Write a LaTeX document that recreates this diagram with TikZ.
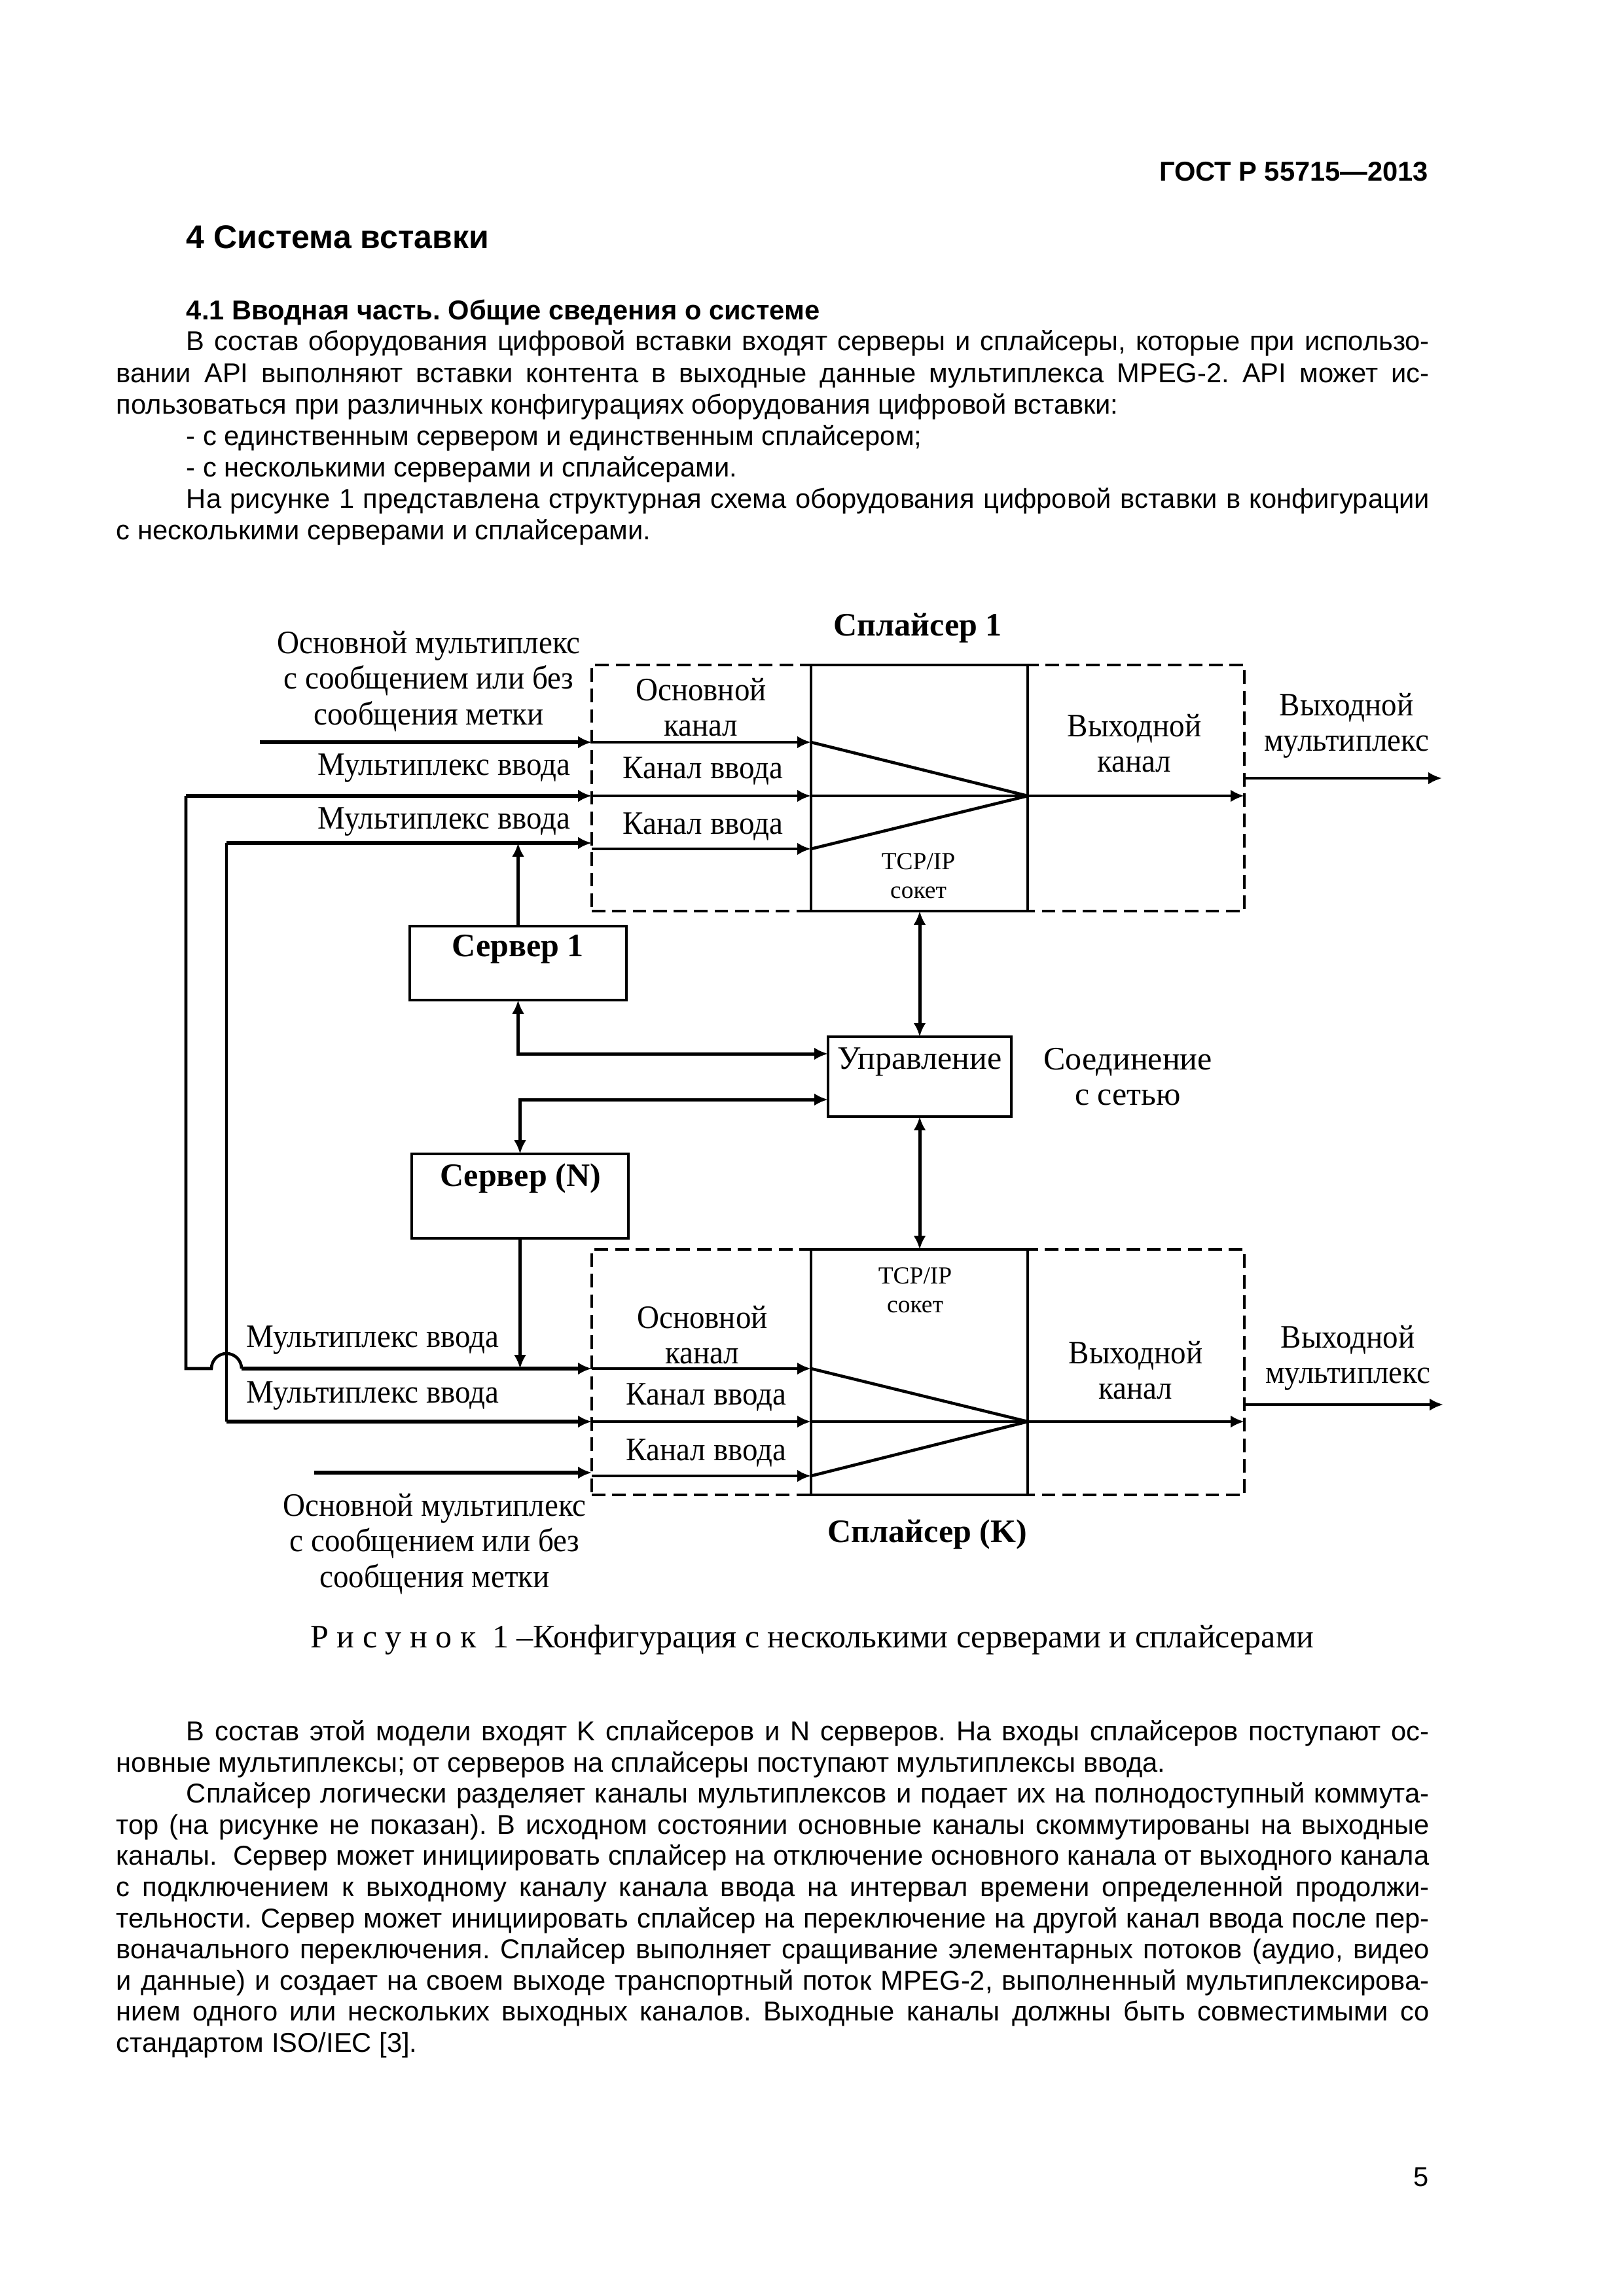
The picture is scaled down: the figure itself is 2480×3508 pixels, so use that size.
\documentclass[tikz,border=0pt]{standalone}
\usepackage{fontspec}
\setmainfont{Liberation Sans}
\newfontfamily\tnr{Liberation Serif}
\newfontfamily\tnrc[FakeStretch=0.94]{Liberation Serif}
\usetikzlibrary{arrows.meta,calc}
\frenchspacing
% justified text lines
\newcommand\jl[1]{\makebox[481.4pt][s]{#1}}
\newcommand\ji[1]{\makebox[481.4pt][s]{\hspace*{25.7pt}#1}}
\tikzset{
  >=Latex,
  body/.style={font=\fontsize{10}{12}\selectfont, inner sep=0pt, anchor=base west},
  hdr/.style={font=\fontsize{10}{12}\selectfont\bfseries, inner sep=0pt, anchor=base west},
  lab/.style={font=\tnrc\fontsize{12}{13}\selectfont, align=center, inner sep=0pt},
  wlab/.style={lab, font=\tnr\fontsize{12}{13}\selectfont},
  ttl/.style={font=\tnr\fontsize{12}{13}\selectfont\bfseries, align=center, inner sep=0pt},
  tcp/.style={font=\tnr\fontsize{9}{10.5}\selectfont, align=center, inner sep=0pt},
  box/.style={draw=black, line width=1pt, inner sep=0pt, outer sep=0pt},
  dbox/.style={draw=black, line width=1pt, dash pattern=on 5pt off 2.5pt, inner sep=0pt, outer sep=0pt},
  wire/.style={draw=black, line width=1.1pt},
  sig/.style={draw=black, line width=1.1pt, -{Latex[length=5pt,width=4.5pt]}},
  main/.style={sig, line width=1.5pt},
  dbl/.style={draw=black, line width=1.2pt, {Latex[length=5pt,width=4.5pt]}-{Latex[length=5pt,width=4.5pt]}},
}

\begin{document}
\begin{tikzpicture}[x=0.24pt,y=-0.24pt]
\fill[white] (0,0) rectangle (2480,3508);
\useasboundingbox (0,0) rectangle (2480,3508);
% page head
\node[hdr, anchor=base east] (gost) at (2183,277) {ГОСТ Р 55715—2013};
\node[hdr, font=\fontsize{12}{14}\selectfont\bfseries] (sec) at (284,380) {4 Система вставки};
\node[hdr] (sub) at (284,489) {4.1 Вводная часть. Общие сведения о системе};
\node[body] (l1) at (177,536) {\ji{В состав оборудования цифровой вставки входят серверы и сплайсеры, которые при использо-}};
\node[body] (l2) at (177,585) {\jl{вании API выполняют вставки контента в выходные данные мультиплекса MPEG-2. API может ис-}};
\node[body] (l3) at (177,633) {пользоваться при различных конфигурациях оборудования цифровой вставки:};
\node[body] (l4) at (284,681) {- с единственным сервером и единственным сплайсером;};
\node[body] (l5) at (284,729) {- с несколькими серверами и сплайсерами.};
\node[body] (l6) at (177,777) {\ji{На рисунке 1 представлена структурная схема оборудования цифровой вставки в конфигурации}};
\node[body] (l7) at (177,825) {с несколькими серверами и сплайсерами.};

% splicer 1
\node[dbox, minimum width=239.28pt, minimum height=90.24pt] (s1) at (1402.5,1204) {};
\node[box, minimum width=79.44pt, minimum height=90.24pt] (s1c) at (1404.5,1204) {};
\node[ttl] (s1t) at (1402,960) {Сплайсер 1};
\node[lab] (s1m) at (1071,1081) {Основной\\канал};
\node[lab] (s1i1) at (1074,1178) {Канал ввода};
\node[lab] (s1i2) at (1074,1263) {Канал ввода};
\node[tcp] (s1tcp) at (1403,1338) {TCP/IP\\сокет};
\node[lab] (s1o) at (1733,1136) {Выходной\\канал};
\node[lab] (s1om) at (2057,1109) {Выходной\\мультиплекс};
\node[lab] (s1mm) at (655,1041) {Основной мультиплекс\\с сообщением или без\\сообщения метки};
\node[lab, anchor=east] (s1ia) at (872,1174) {Мультиплекс ввода};
\node[lab, anchor=east] (s1ib) at (872,1256) {Мультиплекс ввода};
\coordinate (in1) at (397,1134);
\coordinate (lpA) at (284,1216);
\coordinate (lpB) at (346,1288);
\coordinate (r3) at (904,1297);
\coordinate (s1x) at (1570,1216);
\coordinate (o1) at (2203,1189);
\draw[main] (in1) -- (in1 -| s1.west);
\draw[sig] (in1 -| s1.west) -- (in1 -| s1c.west);
\draw[main] (lpA) -- (lpA -| s1.west);
\draw[sig] (lpA -| s1.west) -- (lpA -| s1c.west);
\draw[main] (lpB) -- (lpB -| s1.west);
\draw[sig] (r3) -- (r3 -| s1c.west);
\draw[wire] (in1 -| s1c.west) -- (s1x);
\draw[wire] (lpA -| s1c.west) -- (s1x);
\draw[wire] (r3 -| s1c.west) -- (s1x);
\draw[sig] (s1x) -- (s1x -| s1.east);
\draw[sig] (o1 -| s1.east) -- (o1);

% servers + control
\node[box, minimum width=79.44pt, minimum height=27.12pt] (srv1) at (791.5,1471.5) {};
\node[ttl] (srv1t) at (791,1450) {Сервер 1};
\node[box, minimum width=79.44pt, minimum height=30.96pt] (srvN) at (794.5,1827.5) {};
\node[ttl] (srvNt) at (795,1800) {Сервер (N)};
\node[box, minimum width=67.2pt, minimum height=29.28pt] (ctl) at (1405,1645) {};
\node[wlab] (ctlt) at (1405,1622) {Управление};
\node[wlab] (net) at (1723,1645) {Соединение\\с сетью};
\coordinate (c1) at (1265,1610);
\coordinate (c2) at (1265,1680);
\draw[sig] (srv1.north) -- (srv1.north |- lpB);
\draw[dbl] (srv1.south) |- (c1);
\draw[dbl] (c2) -| (srvN.north);
\draw[dbl] (ctl.north |- s1c.south) -- (ctl.north);

% splicer K
\node[dbox, minimum width=239.28pt, minimum height=90pt] (sK) at (1402.5,2096.5) {};
\node[box, minimum width=79.44pt, minimum height=90pt] (sKc) at (1404.5,2096.5) {};
\node[ttl] (sKt) at (1417,2344) {Сплайсер (K)};
\node[tcp] (sKtcp) at (1398,1971) {TCP/IP\\сокет};
\node[lab] (sKm) at (1073,2040) {Основной\\канал};
\node[lab] (sKi1) at (1079,2135) {Канал ввода};
\node[lab] (sKi2) at (1079,2220) {Канал ввода};
\node[lab] (sKo) at (1735,2094) {Выходной\\канал};
\node[lab] (sKom) at (2059,2075) {Выходной\\мультиплекс};
\node[lab, anchor=west] (sKia) at (376,2048) {Мультиплекс ввода};
\node[lab, anchor=west] (sKib) at (376,2133) {Мультиплекс ввода};
\node[lab] (sKmm) at (664,2359) {Основной мультиплекс\\с сообщением или без\\сообщения метки};
\draw[dbl] (ctl.south) -- (ctl.south |- sKc.north);
\coordinate (kA) at (284,2091);
\coordinate (hop) at (323,2091);
\coordinate (hopE) at (369,2091);
\coordinate (kB) at (346,2172);
\coordinate (in2) at (480,2250);
\coordinate (r6) at (904,2255);
\coordinate (sKx) at (1570,2172);
\coordinate (o2) at (2205,2146);
% loops from splicer 1 inputs, hop over
\draw[wire] (lpA) -- (kA) -- (hop) arc[start angle=180, end angle=360, radius=23];
\draw[main] (hopE) -- (hopE -| sK.west);
\draw[wire] (lpB) -- (kB);
\draw[main] (kB) -- (kB -| sK.west);
\draw[main] (in2) -- (in2 -| sK.west);
\draw[sig] (kA -| sK.west) -- (kA -| sKc.west);
\draw[sig] (kB -| sK.west) -- (kB -| sKc.west);
\draw[sig] (r6) -- (r6 -| sKc.west);
\draw[sig] (srvN.south) -- (srvN.south |- kA);
\draw[wire] (kA -| sKc.west) -- (sKx);
\draw[wire] (kB -| sKc.west) -- (sKx);
\draw[wire] (r6 -| sKc.west) -- (sKx);
\draw[sig] (sKx) -- (sKx -| sK.east);
\draw[sig] (o2 -| sK.east) -- (o2);

% caption + text below
\node[wlab, anchor=base] (cap) at (1241,2517) {Р и с у н о к\ \ 1 –Конфигурация с несколькими серверами и сплайсерами};
\node[body] (m1) at (177,2659) {\ji{В состав этой модели входят K сплайсеров и N серверов. На входы сплайсеров поступают ос-}};
\node[body] (m2) at (177,2707) {новные мультиплексы; от серверов на сплайсеры поступают мультиплексы ввода.};
\node[body] (m3) at (177,2754) {\ji{Сплайсер логически разделяет каналы мультиплексов и подает их на полнодоступный коммута-}};
\node[body] (m4) at (177,2802) {\jl{тор (на рисунке не показан). В исходном состоянии основные каналы скоммутированы на выходные}};
\node[body] (m5) at (177,2849) {\jl{каналы.\ \ Сервер может инициировать сплайсер на отключение основного канала от выходного канала}};
\node[body] (m6) at (177,2897) {\jl{с подключением к выходному каналу канала ввода на интервал времени определенной продолжи-}};
\node[body] (m7) at (177,2945) {\jl{тельности. Сервер может инициировать сплайсер на переключение на другой канал ввода после пер-}};
\node[body] (m8) at (177,2992) {\jl{воначального переключения. Сплайсер выполняет сращивание элементарных потоков (аудио, видео}};
\node[body] (m9) at (177,3040) {\jl{и данные) и создает на своем выходе транспортный поток MPEG-2, выполненный мультиплексирова-}};
\node[body] (m10) at (177,3087) {\jl{нием одного или нескольких выходных каналов. Выходные каналы должны быть совместимыми со}};
\node[body] (m11) at (177,3135) {стандартом ISO/IEC [3].};
\node[body, anchor=base east] (pg) at (2183,3340) {5};
\end{tikzpicture}
\end{document}
